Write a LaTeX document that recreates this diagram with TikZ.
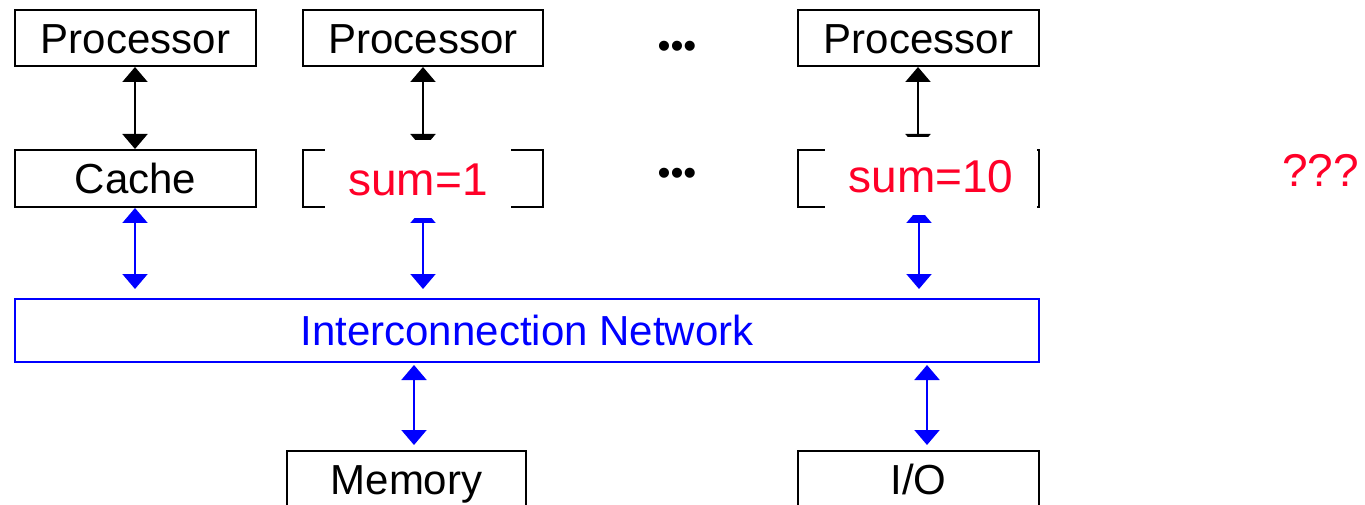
\documentclass[tikz,border=0pt]{standalone}
\usepackage{fontspec}
\setmainfont{Liberation Sans}
\usetikzlibrary{arrows.meta}

\definecolor{netblue}{RGB}{0,0,255}
\definecolor{sumred}{RGB}{255,0,40}

\tikzset{
  unitbox/.style={draw=black, line width=2pt, inner sep=0pt,
    minimum height=56pt, text height=40.6pt, text depth=10.5pt,
    font=\fontsize{42}{50}\selectfont},
  netbox/.style={draw=netblue, line width=2pt, inner sep=0pt, text=netblue,
    text height=40.6pt, text depth=10.5pt,
    font=\fontsize{42}{50}\selectfont},
  sumbox/.style={fill=white, inner sep=0pt, text=sumred,
    minimum height=78pt, text height=44.4pt, text depth=11.5pt,
    font=\fontsize{46}{54}\selectfont},
  blackarrow/.style={line width=2pt, draw=black,
    {Triangle[length=15pt,width=25pt]}-{Triangle[length=15pt,width=25pt]}},
  bluearrow/.style={line width=2pt, draw=netblue,
    {Triangle[length=15pt,width=25pt]}-{Triangle[length=15pt,width=25pt]}},
  dots/.style={inner sep=0pt, anchor=base, font=\fontsize{37}{40}\selectfont},
}

\begin{document}
\begin{tikzpicture}[x=1pt, y=-1pt]
\useasboundingbox (0,0) rectangle (1365,505);

% processors
\node[unitbox, minimum width=241pt] (p1) at (135.5,38) {Processor};
\node[unitbox, minimum width=240pt] (p2) at (423,38) {Processor};
\node[unitbox, minimum width=241pt] (p3) at (918.5,38) {Processor};

% caches
\node[unitbox, minimum width=241pt, minimum height=57pt] (c1) at (135.5,178.5) {Cache};
\node[unitbox, minimum width=240pt, minimum height=57pt] (c2) at (423,178.5) {};
\node[unitbox, minimum width=241pt, minimum height=57pt] (c3) at (918.5,178.5) {};

% interconnect, memory, I/O
\node[netbox, minimum width=1024pt, minimum height=63pt] (net) at (527,330.5) {Interconnection Network};
\node[unitbox, minimum width=239pt] (mem) at (406.5,479) {Memory};
\node[unitbox, minimum width=241pt] (io) at (918.5,479) {I/O};

% connector columns
\coordinate (x1) at (135,0);
\coordinate (x2) at (423,0);
\coordinate (x3) at (918,0);
\coordinate (x3b) at (919,0);
\coordinate (xm) at (414,0);
\coordinate (xi) at (927,0);

% processor <-> cache
\draw[blackarrow] (p1.south -| x1) -- (c1.north -| x1);
\draw[blackarrow] (p2.south -| x2) -- (c2.north -| x2);
\draw[blackarrow] (p3.south -| x3) -- (c3.north -| x3);

% cache <-> network
\draw[bluearrow, shorten >=9pt] (c1.south -| x1) -- (net.north -| x1);
\draw[bluearrow, shorten >=9pt] (c2.south -| x2) -- (net.north -| x2);
\draw[bluearrow, shorten >=9pt] (c3.south -| x3b) -- (net.north -| x3b);

% network <-> memory and I/O
\draw[bluearrow, shorten <=2pt, shorten >=5pt] (net.south -| xm) -- (mem.north -| xm);
\draw[bluearrow, shorten <=2pt, shorten >=5pt] (net.south -| xi) -- (io.north -| xi);

% cached values
\node[sumbox, minimum width=186pt] (s1) at (418,179) {sum=1};
\node[sumbox, minimum width=212pt] (s10) at (931,176) {sum=10};
\node[inner sep=0pt, anchor=base, text=sumred, font=\fontsize{46}{54}\selectfont] (q) at (1320.5,187) {???};

% ellipses
\node[dots] (d1) at (677,59) {•••};
\node[dots] (d2) at (677,186) {•••};
\end{tikzpicture}
\end{document}
